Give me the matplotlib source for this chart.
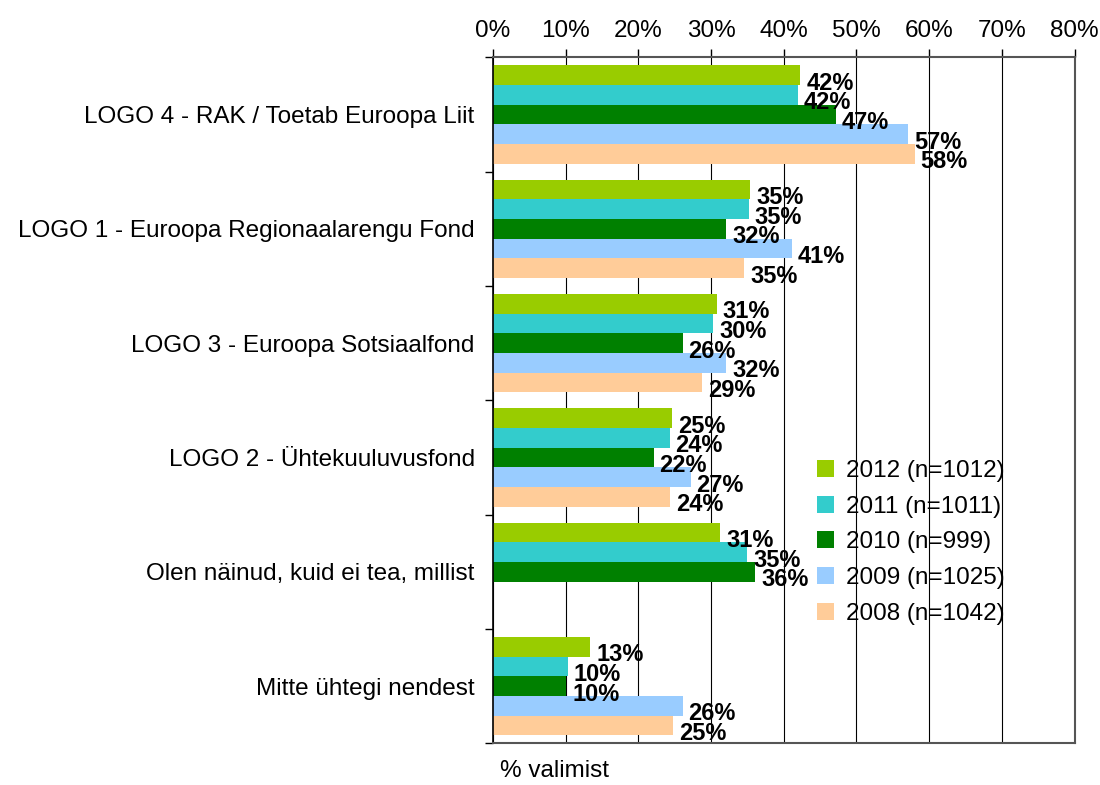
import matplotlib.pyplot as plt
import numpy as np

plt.rcParams['font.family'] = ['Liberation Sans', 'DejaVu Sans']
plt.rcParams['font.size'] = 17.5

categories = ["LOGO 4 - RAK / Toetab Euroopa Liit",
              "LOGO 1 - Euroopa Regionaalarengu Fond",
              "LOGO 3 - Euroopa Sotsiaalfond",
              "LOGO 2 - Ühtekuuluvusfond",
              "Olen näinud, kuid ei tea, millist",
              "Mitte ühtegi nendest"]
series = ["2012 (n=1012)", "2011 (n=1011)", "2010 (n=999)", "2009 (n=1025)", "2008 (n=1042)"]
colors = ["#99CC00", "#33CCCC", "#008000", "#99CCFF", "#FFCC99"]

v2012 = [42.3, 35.4, 30.8, 24.7, 31.3, 13.4]
v2011 = [42.0, 35.2, 30.3, 24.3, 35.0, 10.3]
v2010 = [47.2, 32.1, 26.1, 22.1, 36.1, 10.1]
v2009 = [57.1, 41.1, 32.1, 27.2, np.nan, 26.1]
v2008 = [58.0, 34.6, 28.8, 24.4, np.nan, 24.8]
values = [v2012, v2011, v2010, v2009, v2008]

fig = plt.figure(figsize=(11, 7.85), dpi=100)
ax = fig.add_axes([0.448, 0.053, 0.529, 0.874])

n = len(categories)
bh = 0.172
for i, (vals, name, c) in enumerate(zip(values, series, colors)):
    y = np.arange(n) + 0.07 + bh * (i + 0.5)
    vals = np.array(vals)
    ax.barh(y, np.nan_to_num(vals), height=bh, color=c, label=name)
    for yy, v in zip(y, vals):
        if np.isnan(v):
            continue
        ax.text(v + 0.8, yy + 0.07, f"{v:.0f}%", va='center', ha='left',
                fontsize=17, fontweight='bold')

ax.set_ylim(n, 0)
ax.set_xlim(0, 80)
ax.set_xticks(np.arange(0, 81, 10))
ax.set_xticklabels([f"{t}%" for t in range(0, 81, 10)])
ax.xaxis.tick_top()
ax.tick_params(axis='x', length=6, width=1, pad=5)
ax.set_yticks(np.arange(n + 1))
ax.set_yticklabels([])
ax.set_yticks(np.arange(n) + 0.5, minor=True)
ax.set_yticklabels(categories, minor=True)
ax.tick_params(axis='y', which='major', length=6, width=1)
ax.tick_params(axis='y', which='minor', length=0, pad=13)
ax.grid(axis='x', color='black', linewidth=0.8)
ax.set_axisbelow(True)
for s in ['top', 'right', 'bottom']:
    ax.spines[s].set_color('#555555')
    ax.spines[s].set_linewidth(1.5)
ax.spines['left'].set_linewidth(1.2)

ax.legend(loc='upper left', bbox_to_anchor=(0.54, 0.427), frameon=False,
          handlelength=0.7, handleheight=0.7, labelspacing=0.56,
          handletextpad=0.5, borderaxespad=0)

fig.text(0.455, 0.01, "% valimist")

plt.savefig("out.png", dpi=100)
plt.close('all')
